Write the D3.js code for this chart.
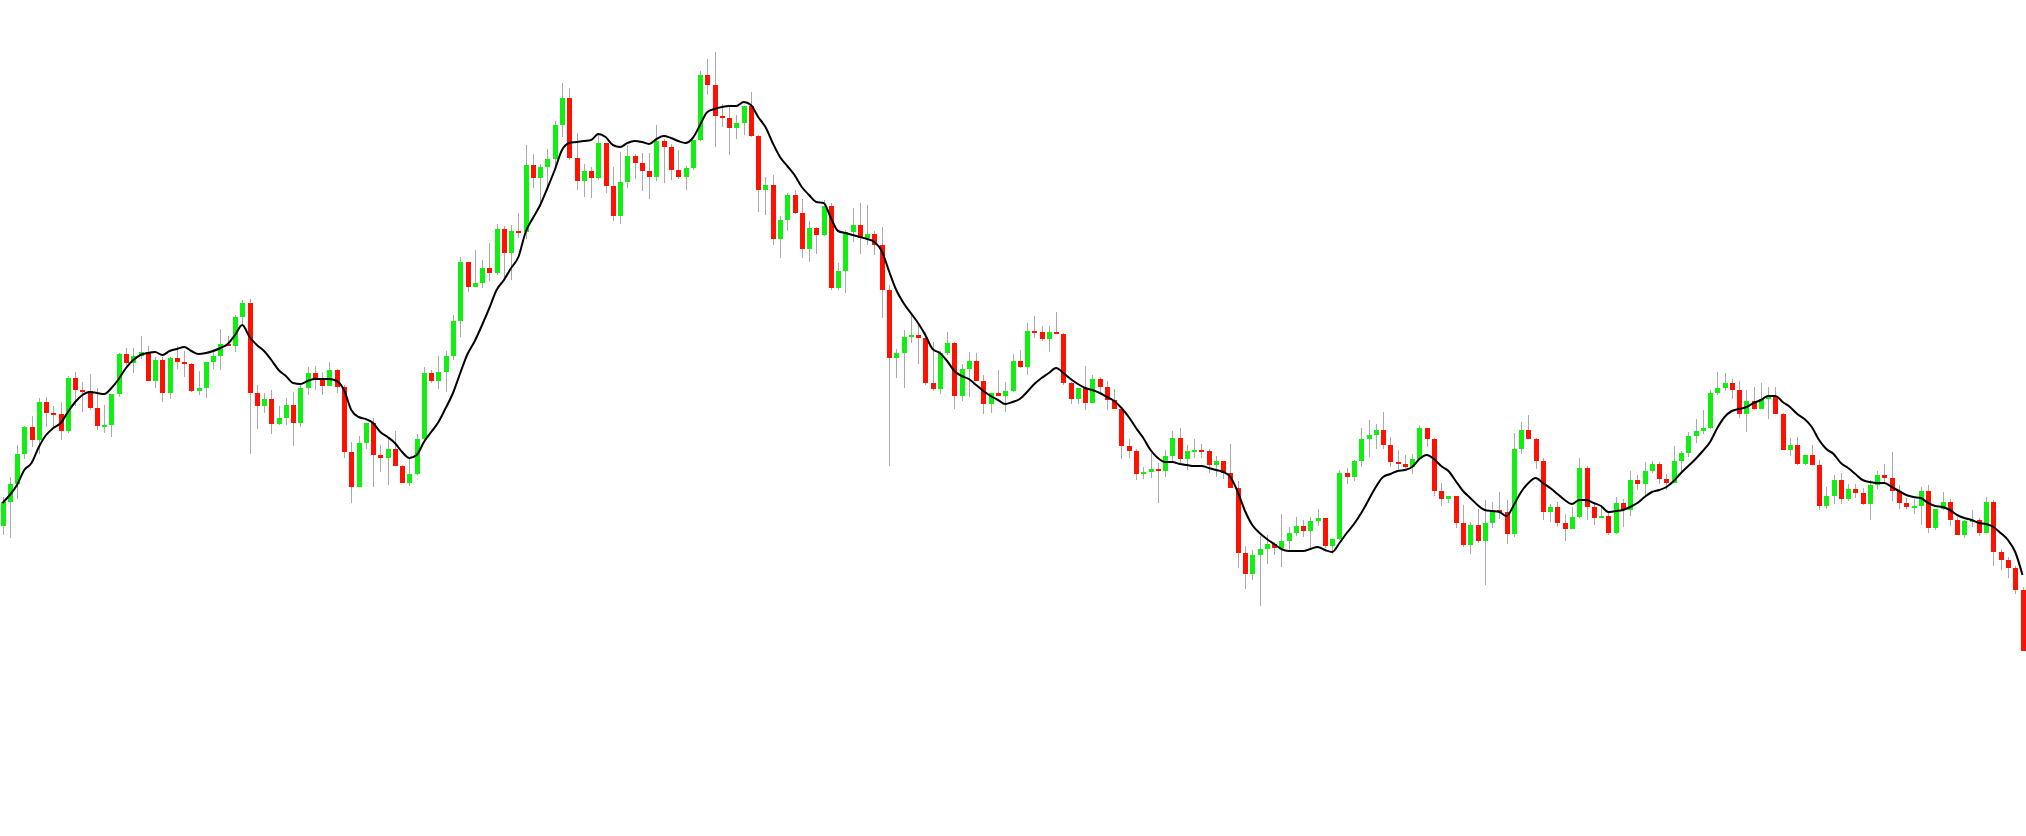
<!DOCTYPE html>
<html><head><meta charset="utf-8">
<script src="https://cdn.jsdelivr.net/npm/d3@7/dist/d3.min.js"></script>
<style>html,body{margin:0;padding:0;background:#fff;overflow:hidden}</style>
</head><body>
<svg id="chart" width="2026" height="836"></svg>
<script>
const openPrices = [474,498,516,546,573,560,598,587,586,569,622,610,609,592,574,575,606,646,637,644,648,619,640,607,642,638,636,609,612,638,644,656,654,683,697,607,594,601,576,582,595,577,612,627,621,614,630,613,548,513,557,577,545,542,551,534,517,526,561,627,619,628,644,679,738,713,717,732,727,771,747,769,768,835,822,833,841,875,902,842,819,829,822,857,814,784,818,844,837,829,823,859,853,830,823,832,860,925,915,884,882,872,877,894,864,810,815,761,780,805,787,751,772,765,794,712,729,768,775,762,766,755,710,642,647,663,665,662,617,611,647,657,604,631,639,619,596,607,604,609,639,633,669,668,661,668,666,617,601,612,597,621,613,600,591,554,549,526,528,531,529,544,562,541,549,550,549,535,539,527,512,447,426,445,451,456,452,459,467,474,469,479,482,454,461,527,523,539,561,565,570,555,538,536,533,541,572,561,509,501,504,477,455,475,459,477,490,488,466,551,570,561,539,488,493,477,471,483,532,493,482,484,467,497,490,520,516,529,536,521,517,539,547,564,569,572,607,612,617,610,586,599,591,601,604,586,550,555,536,545,535,494,504,520,501,511,507,496,515,525,522,509,497,493,494,509,472,491,498,480,465,479,480,467,498,448,440,432,410];
const closePrices = [498,516,546,573,560,598,587,586,569,622,610,609,592,574,575,606,646,637,644,648,619,640,607,642,638,636,609,612,638,644,656,654,683,697,607,594,601,576,582,595,577,612,627,621,614,630,613,548,513,557,577,545,542,551,534,517,526,561,627,619,628,644,679,738,713,717,732,727,771,747,769,768,835,822,833,841,875,902,842,819,829,822,857,814,784,818,844,837,829,823,859,853,830,823,832,860,925,915,884,882,872,877,894,864,810,815,761,780,805,787,751,772,765,794,712,729,768,775,762,766,755,710,642,647,663,665,662,617,611,647,657,604,631,639,619,596,607,604,609,639,633,669,668,661,668,666,617,601,612,597,621,613,600,591,554,549,526,528,531,529,544,562,541,549,550,549,535,539,527,512,447,426,445,451,456,452,459,467,474,469,479,482,454,461,527,523,539,561,565,570,555,538,536,533,541,572,561,509,501,504,477,455,475,459,477,490,488,466,551,570,561,539,488,493,477,471,483,532,493,482,484,467,497,490,520,516,529,536,521,517,539,547,564,569,572,607,612,617,610,586,599,591,601,604,586,550,555,536,545,535,494,504,520,501,511,507,496,515,525,522,509,497,493,494,509,472,491,498,480,465,479,480,467,498,448,440,432,410,349];
const highPrices = [503,523,555,574,584,602,603,594,598,624,628,618,626,612,595,606,647,652,652,664,654,643,643,643,654,649,637,629,638,651,671,664,685,700,701,615,607,610,594,602,608,616,633,634,628,638,631,615,558,564,577,582,555,562,569,535,542,566,633,630,644,649,685,743,738,750,740,757,776,774,775,787,855,846,836,851,879,917,912,867,836,833,867,857,833,848,855,846,847,847,875,861,856,850,834,860,929,941,948,896,893,885,894,908,865,823,825,784,807,810,801,779,773,800,797,737,770,792,797,795,769,773,715,651,670,685,676,668,658,649,668,658,636,648,647,625,607,630,618,646,650,677,684,674,674,688,667,618,612,634,625,623,619,611,592,561,551,533,547,537,550,569,572,555,561,556,551,544,539,556,519,454,450,464,465,458,486,473,483,480,483,491,482,461,530,532,540,572,580,576,588,563,550,545,546,575,572,562,517,504,504,495,478,491,500,498,508,500,567,578,585,562,542,496,498,486,493,542,534,496,495,488,503,501,529,525,538,539,538,526,554,549,568,581,590,610,628,627,621,619,610,613,617,613,613,587,562,563,545,555,540,513,525,527,516,516,512,520,529,536,548,515,502,501,513,515,491,508,501,483,480,490,482,503,500,451,443,434,413];
const lowPrices = [465,462,501,541,553,546,573,573,560,567,594,588,590,570,567,563,603,633,627,641,619,612,598,601,631,623,608,605,602,631,630,654,648,675,546,571,587,566,575,575,554,573,605,610,605,614,607,542,497,513,551,513,528,515,534,517,514,525,557,617,611,608,640,663,708,713,712,719,725,719,720,762,761,812,793,810,830,863,840,810,803,802,820,807,779,776,812,821,809,801,819,817,820,821,810,830,859,905,853,873,845,861,865,863,788,785,755,742,769,786,742,738,746,764,710,710,707,758,746,755,745,682,534,622,612,657,636,615,609,606,645,591,599,603,619,586,587,604,588,608,632,625,662,659,648,666,615,596,596,590,597,608,590,591,541,542,520,521,522,497,523,537,537,530,542,542,527,523,521,512,432,411,420,394,436,445,433,448,464,463,452,474,452,446,460,516,519,533,543,551,551,533,530,532,526,540,553,504,494,497,472,453,446,457,415,472,481,456,463,546,561,531,480,478,473,459,471,482,480,475,482,465,466,473,484,510,505,527,516,510,517,529,543,557,566,571,605,609,601,582,568,590,591,581,586,550,544,535,535,535,490,491,496,496,499,502,495,480,511,516,499,491,491,486,475,467,470,490,474,465,462,473,464,467,434,430,422,406,349];
const maValues = [497,505,515,530,537,553,565,572,577,588,598,605,608,607,606,612,621,632,640,645,647,648,645,649,651,653,649,646,647,649,652,656,665,675,663,655,649,640,630,624,617,616,619,621,621,621,619,610,590,583,581,577,568,563,557,548,542,545,558,568,578,592,607,627,646,659,675,692,710,720,732,743,768,782,795,812,830,850,857,858,859,860,866,863,855,853,857,859,858,856,861,864,862,859,857,862,875,888,891,893,894,894,898,895,883,873,857,843,834,825,813,805,798,797,782,769,767,765,763,761,758,749,729,710,697,687,677,665,651,647,639,629,624,621,615,609,604,600,596,598,601,608,616,622,627,632,627,621,616,612,610,607,603,599,592,583,572,562,550,542,538,538,536,535,534,534,532,530,528,523,508,489,475,467,461,456,451,449,449,449,451,453,450,448,457,467,476,487,500,513,523,526,529,530,533,541,545,541,534,529,519,509,502,495,490,489,488,484,495,508,517,522,517,512,506,500,496,500,500,497,494,488,489,490,493,497,503,508,510,513,519,527,534,541,549,558,572,583,589,591,593,597,600,604,604,598,593,586,581,573,560,551,546,537,532,526,520,518,517,517,513,509,505,503,502,497,494,493,490,485,482,480,477,476,473,467,460,448,425];

const W = 2026, H = 836;
const n = closePrices.length;
const candles = d3.range(n).map(i => ({i, o: openPrices[i], c: closePrices[i], h: highPrices[i], l: lowPrices[i]}));

const x = d3.scalePoint().domain(d3.range(n)).range([2.5, 2022.5]);
const y = d3.scaleLinear().domain([0, 1000]).range([1000, 0]);

const svg = d3.select("#chart");
svg.append("rect").attr("width", W).attr("height", H).attr("fill", "#fff");

const g = svg.append("g");
const up = "#11ee11", down = "#ff1100", wickColor = "#aaaaaa";
const bodyW = 5;

g.selectAll("line.wick").data(candles).join("line")
  .attr("class", "wick")
  .attr("x1", d => Math.round(x(d.i)) + 0.5)
  .attr("x2", d => Math.round(x(d.i)) + 0.5)
  .attr("y1", d => y(d.h))
  .attr("y2", d => y(d.l))
  .attr("stroke", wickColor).attr("stroke-width", 1)
  .attr("shape-rendering", "crispEdges");

g.selectAll("rect.body").data(candles).join("rect")
  .attr("class", "body")
  .attr("x", d => Math.round(x(d.i)) + 0.5 - bodyW / 2)
  .attr("width", bodyW)
  .attr("y", d => y(Math.max(d.o, d.c)))
  .attr("height", d => Math.max(1.5, Math.abs(y(d.o) - y(d.c))))
  .attr("fill", d => d.c >= d.o ? up : down)
  .attr("shape-rendering", "crispEdges");

const line = d3.line()
  .x((d, i) => x(i))
  .y(d => y(d))
  .curve(d3.curveMonotoneX);

svg.append("path").datum(maValues)
  .attr("d", line)
  .attr("fill", "none")
  .attr("stroke", "#000")
  .attr("stroke-width", 2)
  .attr("stroke-linejoin", "round");
</script>
</body></html>
